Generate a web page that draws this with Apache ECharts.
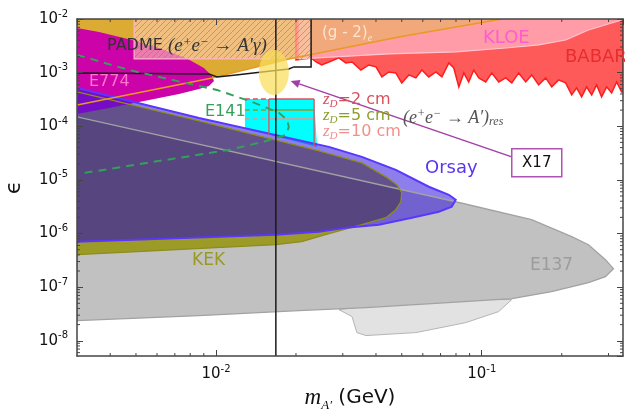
<!DOCTYPE html>
<html><head><meta charset="utf-8">
<script src="https://cdn.jsdelivr.net/npm/echarts@6/dist/echarts.min.js"></script>
<style>html,body{margin:0;padding:0;background:#fff}#c{width:625px;height:411px}</style>
</head><body><div id="c"></div>
<script>
// ---------- axis ranges & ticks ----------
const massRange = [0.003, 0.34];
const epsRange = [5.2e-9, 1e-2];
const massX17 = 0.0168;

// ---------- regions: [mass (GeV), epsilon] ----------
const e137Main = [[3.0e-3,1.50e-4],[7.98e-2,3.91e-6],[0.154,1.81e-6],[0.218,8.72e-7],[0.252,6.18e-7],[0.292,3.25e-7],[0.313,2.21e-7],[0.292,1.57e-7],[0.252,1.21e-7],[0.183,8.24e-8],[0.130,6.11e-8],[6.48e-2,4.93e-8],[3.67e-2,4.15e-8],[2.05e-2,3.65e-8],[8.63e-3,2.94e-8],[3.0e-3,2.38e-8]];
const e137Low = [[2.90e-2,3.81e-8],[3.25e-2,2.82e-8],[3.39e-2,1.42e-8],[3.67e-2,1.25e-8],[5.65e-2,1.42e-8],[8.71e-2,2.18e-8],[0.1158,3.50e-8],[0.1297,5.85e-8],[6.0e-2,6.0e-8]];
const kek = [[3.0e-3,4.37e-4],[8.63e-3,1.26e-4],[2.44e-2,3.48e-5],[3.54e-2,2.08e-5],[4.36e-2,1.14e-5],[4.79e-2,8.11e-6],[5.0e-2,5.75e-6],[4.96e-2,3.91e-6],[4.75e-2,2.77e-6],[4.36e-2,1.97e-6],[3.54e-2,1.46e-6],[2.66e-2,9.9e-7],[2.10e-2,7.04e-7],[1.68e-2,6.18e-7],[3.0e-3,4.03e-7]];
const orsay = [[3.0e-3,5.19e-4],[8.63e-3,1.43e-4],[2.66e-2,4.13e-5],[3.54e-2,2.69e-5],[4.75e-2,1.54e-5],[6.32e-2,7.45e-6],[7.52e-2,5.28e-6],[7.98e-2,4.26e-6],[7.71e-2,3.15e-6],[6.89e-2,2.55e-6],[5.46e-2,1.97e-6],[4.10e-2,1.46e-6],[3.08e-2,1.28e-6],[2.44e-2,1.08e-6],[1.68e-2,9.51e-7],[3.0e-3,7.04e-7]];
const e774 = [[3.0e-3,6.79e-3],[3.63e-3,5.73e-3],[4.83e-3,4.06e-3],[6.10e-3,2.88e-3],[7.71e-3,1.88e-3],[9.01e-3,1.22e-3],[9.66e-3,8.68e-4],[9.83e-3,7.0e-4],[9.41e-3,5.65e-4],[8.63e-3,4.97e-4],[7.26e-3,4.01e-4],[5.60e-3,3.10e-4],[3.96e-3,2.20e-4],[3.0e-3,1.70e-4]];
const g2Line = [[3.0e-3,2.50e-4],[9.66e-3,7.96e-4],[1.88e-2,1.80e-3],[4.87e-2,4.63e-3],[0.1188,1e-2]];
const kloeLine = [[2.05e-2,1.80e-3],[4.47e-2,2.23e-3],[7.98e-2,2.43e-3],[0.1231,2.88e-3],[0.1637,3.28e-3],[0.2068,4.06e-3],[0.252,6.24e-3],[0.336,9.58e-3]];
const babarMass = [2.0e-2,2.28e-2,2.38e-2,2.50e-2,2.66e-2,2.90e-2,3.08e-2,3.25e-2,3.51e-2,3.76e-2,4.00e-2,4.21e-2,4.47e-2,4.75e-2,5.00e-2,5.32e-2,5.65e-2,5.95e-2,6.32e-2,6.72e-2,7.08e-2,7.52e-2,7.85e-2,8.20e-2,8.56e-2,8.93e-2,9.33e-2,9.75e-2,0.1035,0.1091,0.1159,0.1231,0.1297,0.1377,0.1464,0.1542,0.1637,0.1740,0.1833,0.1947,0.2068,0.2180,0.2275,0.2376,0.2481,0.2592,0.2705,0.2825,0.2950,0.3081,0.3218,0.3360];
const babarEps = [1.72e-3,1.88e-3,1.58e-3,1.39e-3,1.58e-3,1.88e-3,1.52e-3,1.58e-3,1.12e-3,1.39e-3,1.28e-3,8.32e-4,1.03e-3,9.87e-4,6.43e-4,9.06e-4,7.96e-4,1.12e-3,8.32e-4,1.03e-3,8.32e-4,1.52e-3,1.22e-3,5.42e-4,9.87e-4,6.71e-4,1.12e-3,7.96e-4,6.71e-4,9.87e-4,6.71e-4,7.96e-4,6.43e-4,9.87e-4,6.71e-4,9.06e-4,5.90e-4,7.96e-4,5.42e-4,7.31e-4,6.43e-4,3.84e-4,5.19e-4,3.53e-4,5.42e-4,3.84e-4,5.90e-4,3.53e-4,5.42e-4,4.19e-4,6.71e-4,4.37e-4];
const padmeLimit = [[3.0e-3,9.87e-4],[9.41e-3,9.46e-4],[1.009e-2,8.32e-4],[1.19e-2,9.06e-4],[1.49e-2,1.03e-3],[1.88e-2,1.17e-3],[1.963e-2,1.28e-3],[2.28e-2,1.28e-3],[2.28e-2,1e-2]];
const padmeMass = [4.92e-3, 2.28e-2];
const padmeEps = [1.80e-3, 1e-2];
const e141Contour = [[3.0e-3,2.14e-3],[4.71e-3,1.12e-3],[7.38e-3,6.71e-4],[1.009e-2,4.76e-4],[1.365e-2,2.85e-4],[1.726e-2,1.78e-4],[1.85e-2,1.32e-4],[1.88e-2,9.75e-5],[1.834e-2,6.92e-5],[1.51e-2,5.13e-5],[1.12e-2,3.64e-5],[7.26e-3,2.58e-5],[4.71e-3,1.83e-5],[3.05e-3,1.30e-5]];
const cyanBox = [[1.285e-2,3.24e-4],[2.34e-2,3.24e-4],[2.40e-2,4.13e-5],[1.285e-2,8.95e-5]];
const zdMass = [1.285e-2, 1.582e-2, 2.34e-2];      // dashed start, solid start, right edge
const zdEps = [3.24e-4, 2.02e-4, 1.37e-4];         // z_D = 2, 5, 10 cm
const zdBottom = [6.92e-5, 4.13e-5];               // lower ends of the two vertical edges
const x17EllipseMass = [1.45e-2, 1.88e-2];
const x17EllipseEps = [3.84e-4, 2.65e-3];
const x17BoxMass = [0.1297, 0.200];
const x17BoxEps = [1.14e-5, 3.79e-5];
const arrowTail = [0.1297, 2.69e-5];
const arrowTip = [1.91e-2, 7.0e-4];

// ---------- helpers ----------
const SANS = "'DejaVu Sans', sans-serif";
const SERIF = "'Liberation Serif', 'DejaVu Serif', serif";
const chart = echarts.init(document.getElementById('c'), null, {renderer:'canvas'});
const pc = function(){
  const c = document.createElement('canvas'); c.width = 6; c.height = 6;
  const g = c.getContext('2d'); g.strokeStyle = 'rgba(185,105,65,0.55)'; g.lineWidth = 1;
  g.beginPath(); g.moveTo(0,6); g.lineTo(6,0); g.moveTo(-1,1); g.lineTo(1,-1); g.moveTo(5,7); g.lineTo(7,5); g.stroke();
  return c;
}();
function C(api, pts){ return pts.map(p => api.coord(p)); }
function custom(anchor, render){
  return {type:'custom', coordinateSystem:'cartesian2d', silent:true, clip:true, animation:false, data:[anchor], renderItem: render};
}
function poly(pts, style){
  return custom(pts[0], (p, api) => ({type:'polygon', shape:{points:C(api, pts)}, style:Object.assign({}, style)}));
}
function pline(pts, style){
  return custom(pts[0], (p, api) => ({type:'polyline', shape:{points:C(api, pts)}, style:Object.assign({fill:null}, style)}));
}
const g2Region = g2Line.concat([[massRange[0], epsRange[1]]]);
const kloeRegion = kloeLine.concat([[massRange[1], epsRange[1]],[kloeLine[0][0], epsRange[1]]]);
const babarRegion = [[babarMass[0], epsRange[1]]].concat(babarMass.map((m,i)=>[m, babarEps[i]])).concat([[massRange[1], babarEps[babarEps.length-1]],[massRange[1], epsRange[1]]]);

const series = [];
series.push(poly(e137Low, {fill:'#e2e2e2', stroke:'#b4b4b4', lineWidth:1}));
series.push(poly(e137Main, {fill:'#c1c1c1'}));
series.push(poly(kek, {fill:'#9d9b28'}));
series.push(poly(g2Region, {fill:'#dcab33'}));
series.push(poly(e774, {fill:'#cb03a8'}));
series.push(poly(babarRegion, {fill:'#ff5a5a', stroke:'#ff1c1c', lineWidth:1.5}));
series.push(poly(kloeRegion, {fill:'#ff9ca8'}));
series.push(custom(g2Line[2], (p, api) => {
  const cs = p.coordSys; const x0 = api.coord([kloeLine[0][0], epsRange[1]])[0];
  return {type:'polygon', shape:{points:C(api, g2Region)}, style:{fill:'#f1a97b'},
    clipPath:{type:'rect', shape:{x:x0, y:cs.y, width:cs.x+cs.width-x0, height:cs.height}}};
}));
series.push(pline(kloeLine, {stroke:'#ffc6cf', lineWidth:1.2}));
series.push(custom([padmeMass[0], padmeEps[0]], (p, api) => {
  const a = api.coord([padmeMass[0], padmeEps[1]]), b = api.coord([padmeMass[1], padmeEps[0]]);
  const sh = {x:a[0], y:a[1], width:b[0]-a[0], height:b[1]-a[1]};
  return {type:'group', children:[
    {type:'rect', shape:sh, style:{fill:'rgba(255,205,178,0.6)'}},
    {type:'rect', shape:sh, style:{fill:{image:pc, repeat:'repeat'}}},
    {type:'polyline', shape:{points:[[b[0]-40,b[1]],[a[0],b[1]],[a[0],a[1]]]}, style:{fill:null, stroke:'#ffb4cc', lineWidth:1.2}}
  ]};
}));
series.push(poly(cyanBox, {fill:'#00ffff'}));
series.push(poly(orsay, {fill:'rgba(50,20,220,0.55)'}));
// extra shading where Orsay, KEK and E137 all overlap
series.push(custom(e137Main[0], (p, api) => ({
  type:'group', clipPath:{type:'polygon', shape:{points:C(api, orsay)}},
  children:[{type:'polygon', shape:{points:C(api, e137Main)}, style:{fill:'rgba(20,10,60,0.15)'},
    clipPath:{type:'polygon', shape:{points:C(api, kek)}}}]
})));
series.push(poly(e137Main, {fill:null, stroke:'#a2a2a2', lineWidth:1.3}));
series.push(poly(kek, {fill:null, stroke:'#8e8c1c', lineWidth:1.3}));
series.push(poly(orsay, {fill:null, stroke:'#5a36ff', lineWidth:2}));
series.push(pline(g2Line, {stroke:'#e89a22', lineWidth:1.5}));
series.push(pline(padmeLimit, {stroke:'#1a1a1a', lineWidth:1.5}));
// z_D sensitivity lines
const zdColors = ['#e0505c', '#8f9d2c', '#f0908c'];
series.push(custom([zdMass[1], zdEps[0]], (p, api) => {
  const ch = [];
  zdEps.forEach((e,i) => {
    const l = api.coord([zdMass[0], e]), s = api.coord([zdMass[1], e]), r = api.coord([zdMass[2], e]);
    ch.push({type:'line', shape:{x1:l[0], y1:l[1], x2:s[0], y2:s[1]}, style:{stroke:zdColors[i], lineWidth:1.5, lineDash:[5,3]}});
    ch.push({type:'line', shape:{x1:s[0], y1:s[1], x2:r[0], y2:r[1]}, style:{stroke:zdColors[i], lineWidth:1.5}});
  });
  const v1a = api.coord([zdMass[1], zdEps[0]]), v1b = api.coord([zdMass[1], zdBottom[0]]);
  const v2a = api.coord([zdMass[2], zdEps[0]]), v2b = api.coord([zdMass[2], zdBottom[1]]);
  ch.push({type:'line', shape:{x1:v1a[0], y1:v1a[1], x2:v1b[0], y2:v1b[1]}, style:{stroke:zdColors[0], lineWidth:1.3}});
  ch.push({type:'line', shape:{x1:v2a[0], y1:v2a[1], x2:v2b[0], y2:v2b[1]}, style:{stroke:zdColors[0], lineWidth:1.3}});
  return {type:'group', children:ch};
}));
series.push(pline(e141Contour, {stroke:'#35a05c', lineWidth:2, lineDash:[8,6]}));
series.push(pline([[massX17, epsRange[0]],[massX17, epsRange[1]]], {stroke:'#1a1a1a', lineWidth:1.5}));
series.push(custom([x17EllipseMass[0], x17EllipseEps[0]], (p, api) => {
  const a = api.coord([x17EllipseMass[0], x17EllipseEps[1]]), b = api.coord([x17EllipseMass[1], x17EllipseEps[0]]);
  const cx = (a[0]+b[0])/2, cy = (a[1]+b[1])/2, rx = (b[0]-a[0])/2, ry = (b[1]-a[1])/2;
  const pts = []; for (let k=0;k<48;k++){ const t = k/48*2*Math.PI; pts.push([cx+rx*Math.cos(t), cy+ry*Math.sin(t)]); }
  return {type:'polygon', shape:{points:pts}, style:{fill:'rgba(250,222,90,0.72)'}};
}));
series.push(custom(arrowTail, (p, api) => {
  const t = api.coord(arrowTail), h = api.coord(arrowTip);
  const ang = Math.atan2(h[1]-t[1], h[0]-t[0]), L = 9, W = 4;
  const bx = h[0]-L*Math.cos(ang), by = h[1]-L*Math.sin(ang);
  const a = api.coord([x17BoxMass[0], x17BoxEps[1]]), b = api.coord([x17BoxMass[1], x17BoxEps[0]]);
  return {type:'group', children:[
    {type:'line', shape:{x1:t[0], y1:t[1], x2:bx, y2:by}, style:{stroke:'#a23ea6', lineWidth:1.5}},
    {type:'polygon', shape:{points:[[h[0],h[1]],[bx-W*Math.sin(ang), by+W*Math.cos(ang)],[bx+W*Math.sin(ang), by-W*Math.cos(ang)]]}, style:{fill:'#a23ea6'}},
    {type:'rect', shape:{x:a[0], y:a[1], width:b[0]-a[0], height:b[1]-a[1]}, style:{fill:'#fff', stroke:'#b052b4', lineWidth:1.5}},
    {type:'text', x:(a[0]+b[0])/2, y:(a[1]+b[1])/2, style:{text:'X17', fill:'#111', font:'15px '+SANS, align:'center', verticalAlign:'middle'}}
  ]};
}));
// minor ticks at 2..9 x 10^n on all four sides
series.push(custom([0.01, 1e-5], (p, api) => {
  const cs = p.coordSys, ch = [], st = {stroke:'#444', lineWidth:1};
  for (let d=-3; d<=0; d++) for (let k=2;k<=9;k++){
    const v = k*Math.pow(10,d); if (v<=massRange[0]||v>=massRange[1]) continue;
    const x = api.coord([v, 1e-5])[0];
    ch.push({type:'line', shape:{x1:x, y1:cs.y+cs.height, x2:x, y2:cs.y+cs.height-3}, style:st});
    ch.push({type:'line', shape:{x1:x, y1:cs.y, x2:x, y2:cs.y+3}, style:st});
  }
  for (let d=-9; d<=-3; d++) for (let k=2;k<=9;k++){
    const v = k*Math.pow(10,d); if (v<=epsRange[0]||v>=epsRange[1]) continue;
    const y = api.coord([0.01, v])[1];
    ch.push({type:'line', shape:{x1:cs.x, y1:y, x2:cs.x+3, y2:y}, style:st});
    ch.push({type:'line', shape:{x1:cs.x+cs.width, y1:y, x2:cs.x+cs.width-3, y2:y}, style:st});
  }
  return {type:'group', children:ch};
}));

function powLabel(v){ return '{b|10}{s|' + Math.round(Math.log10(v)) + '}'; }
const tickRich = {b:{fontSize:15, fontFamily:SANS, color:'#111', lineHeight:20}, s:{fontSize:10, fontFamily:SANS, color:'#111', lineHeight:20, verticalAlign:'top'}};
const axLine = {show:true, lineStyle:{color:'#444', width:1.5}};
const axTick = {show:true, inside:true, length:6, lineStyle:{color:'#444', width:1}};

function txt(x, y, text, fill, size, rich){
  return {type:'text', x:x, y:y, z:100, silent:true, style:{text:text, fill:fill, fontSize:size, fontFamily:SANS, align:'left', verticalAlign:'middle', rich:rich}};
}
const mathRich = (sz, col) => ({
  m:{fontFamily:SERIF, fontStyle:'italic', fontSize:sz, color:col, lineHeight:20},
  p:{fontFamily:SERIF, fontStyle:'italic', fontSize:sz-6, color:col, lineHeight:20, verticalAlign:'top'},
  d:{fontFamily:SERIF, fontStyle:'italic', fontSize:sz-6, color:col, lineHeight:20, verticalAlign:'bottom'},
  a:{fontFamily:SANS, fontSize:16, color:'#1a1a1a', lineHeight:20},
  t:{fontFamily:SANS, fontSize:16, color:col, lineHeight:20}
});
const zdRich = col => ({
  z:{fontFamily:SERIF, fontStyle:'italic', fontSize:17, color:col, lineHeight:20},
  d:{fontFamily:SERIF, fontStyle:'italic', fontSize:11, color:col, lineHeight:20, verticalAlign:'bottom'},
  t:{fontFamily:SANS, fontSize:16, color:col, lineHeight:20}
});

chart.setOption({
  animation:false,
  grid:{left:77, right:2, top:19, bottom:55, containLabel:false, outerBoundsMode:'none'},
  xAxis:[
    {type:'log', logBase:10, min:massRange[0], max:massRange[1], position:'bottom', z:10,
     axisLine:axLine, axisTick:axTick, splitLine:{show:false},
     axisLabel:{formatter:powLabel, rich:tickRich, margin:8, showMinLabel:false, showMaxLabel:false},
     name:'{m|m}{s|A′}{n| (GeV)}', nameLocation:'middle', nameGap:24,
     nameTextStyle:{rich:{m:{fontFamily:SERIF, fontStyle:'italic', fontSize:23, color:'#111', lineHeight:28},
       s:{fontFamily:SERIF, fontStyle:'italic', fontSize:13, color:'#111', lineHeight:28, verticalAlign:'bottom'},
       n:{fontFamily:SANS, fontSize:20, color:'#111', lineHeight:28}}}},
    {type:'log', logBase:10, min:massRange[0], max:massRange[1], position:'top', z:10,
     axisLine:axLine, axisTick:axTick, splitLine:{show:false}, axisLabel:{show:false}}
  ],
  yAxis:[
    {type:'log', logBase:10, min:epsRange[0], max:epsRange[1], position:'left', z:10,
     axisLine:axLine, axisTick:axTick, splitLine:{show:false},
     axisLabel:{formatter:powLabel, rich:tickRich, margin:9, showMinLabel:false, showMaxLabel:true},
     name:'ϵ', nameLocation:'middle', nameGap:52, nameRotate:90,
     nameTextStyle:{fontFamily:SANS, fontSize:22, color:'#111'}},
    {type:'log', logBase:10, min:epsRange[0], max:epsRange[1], position:'right', z:10,
     axisLine:axLine, axisTick:axTick, splitLine:{show:false}, axisLabel:{show:false}}
  ],
  series:series,
  graphic:[
    txt(107, 46, '{a|PADME} {m|(e}{p|+}{m|e}{p|−}{m| → A′γ)}', '#333', 16, mathRich(19, '#3a3030')),
    txt(322, 33, '{t|(g - 2)}{d|e}', '#ffe4d0', 15, {t:{fontFamily:SANS, fontSize:15, color:'#ffe4d0', lineHeight:20}, d:{fontFamily:SERIF, fontStyle:'italic', fontSize:10, color:'#ffe4d0', lineHeight:20, verticalAlign:'bottom'}}),
    txt(483, 38, 'KLOE', '#ff5ccc', 18),
    txt(565, 57, 'BABAR', '#e62e2e', 18),
    txt(89, 82, 'E774', '#ff74cf', 16),
    txt(205, 112, 'E141', '#35a05c', 16),
    txt(323, 100, '{z|z}{d|D}{t|=2 cm}', '#d8505c', 16, zdRich('#c8404c')),
    txt(323, 116, '{z|z}{d|D}{t|=5 cm}', '#8f9d2c', 16, zdRich('#8f9d2c')),
    txt(323, 132, '{z|z}{d|D}{t|=10 cm}', '#f0908c', 16, zdRich('#f0908c')),
    txt(403, 118, '{m|(e}{p|+}{m|e}{p|−}{m| → A′)}{d|res}', '#555', 15, mathRich(18, '#555')),
    txt(425, 168, 'Orsay', '#5a35f0', 18),
    txt(192, 261, 'KEK', '#9a9a22', 17),
    txt(530, 266, 'E137', '#9c9c9c', 17)
  ]
});
</script></body></html>
